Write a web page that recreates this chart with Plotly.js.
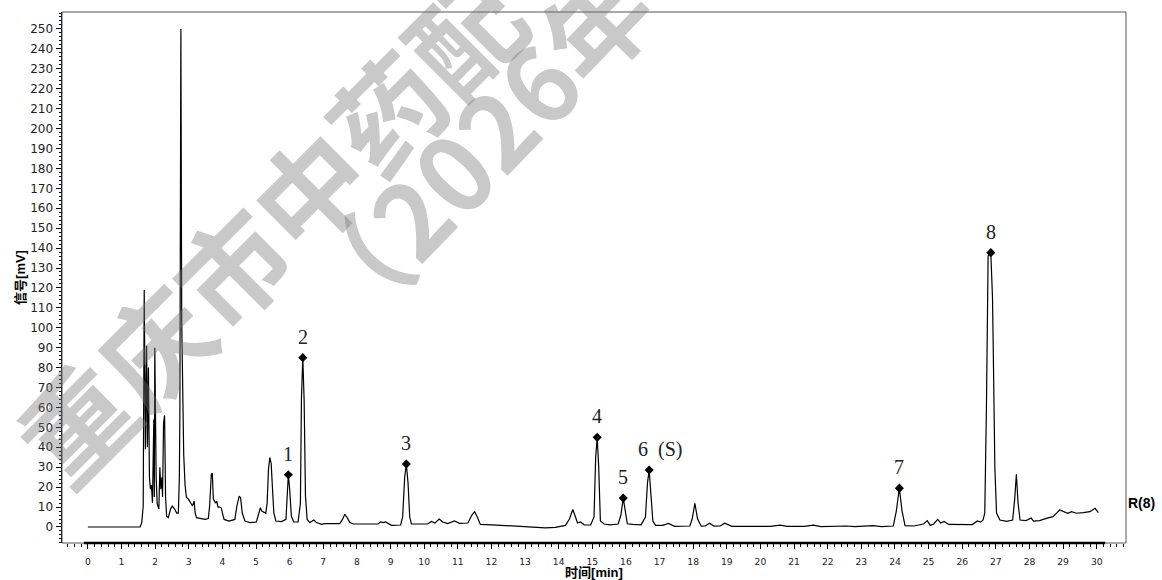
<!DOCTYPE html>
<html>
<head>
<meta charset="utf-8">
<script src="https://cdn.plot.ly/plotly-3.0.1.min.js"></script>
<style>html,body{margin:0;padding:0;background:#fff;}#chart{width:1162px;height:580px;}</style>
</head>
<body>
<div id="chart"></div>
<script>
// retention time (min)
const times = [0,1.55,1.60,1.645,1.675,1.71,1.745,1.77,1.80,1.83,1.86,1.89,1.92,1.94,1.96,1.975,1.99,2.03,2.06,2.11,2.14,2.17,2.20,2.22,2.25,2.28,2.31,2.34,2.39,2.46,2.51,2.58,2.64,2.69,2.72,2.735,2.765,2.79,2.82,2.85,2.89,2.93,2.99,3.05,3.11,3.16,3.19,3.23,3.33,3.48,3.58,3.62,3.67,3.70,3.73,3.76,3.80,3.83,3.87,3.92,3.97,4.00,4.05,4.20,4.37,4.43,4.50,4.54,4.59,4.67,4.82,5.01,5.08,5.13,5.17,5.23,5.29,5.33,5.37,5.41,5.45,5.49,5.53,5.59,5.76,5.89,5.925,5.96,6.00,6.05,6.12,6.25,6.32,6.35,6.39,6.43,6.47,6.52,6.60,6.72,6.80,6.95,7.05,7.49,7.57,7.64,7.71,7.79,7.90,8.30,8.63,8.70,8.78,8.85,9.03,9.30,9.36,9.42,9.47,9.52,9.57,9.62,9.83,10.10,10.22,10.32,10.45,10.55,10.70,10.90,11.05,11.30,11.42,11.50,11.58,11.67,12.00,12.60,13.20,13.60,13.90,14.20,14.32,14.42,14.50,14.56,14.65,14.76,14.95,15.05,15.10,15.145,15.19,15.24,15.35,15.52,15.77,15.85,15.92,15.98,16.04,16.20,16.45,16.58,16.64,16.69,16.74,16.80,16.88,17.10,17.26,17.45,17.90,17.97,18.05,18.13,18.24,18.35,18.49,18.62,18.80,18.94,19.15,19.60,20.30,20.58,20.80,21.30,21.57,21.80,22.56,22.80,23.35,23.60,23.95,24.04,24.13,24.21,24.30,24.55,24.85,24.96,25.05,25.15,25.27,25.36,25.46,25.60,25.90,26.30,26.45,26.55,26.62,26.67,26.72,26.77,26.85,26.90,26.93,26.97,27.02,27.12,27.32,27.50,27.56,27.61,27.66,27.72,27.90,28.05,28.12,28.30,28.50,28.70,28.90,29.02,29.14,29.25,29.40,29.60,29.80,29.95,30.05];
// detector signal (mV)
const signal = [0,0,2,10.5,119,39,91,40,80,25,19,21,12,40,54,15,90,25,12,9,30,19,25,15,52,56,15,5.5,4.7,9,10.5,9,7,7,25,57,250,103,64,36,21,15,14,12,10.5,13,7,4.7,4.2,3.8,4.2,10.5,26.4,27,14,13,12,13,10,10,9.5,7,3.8,3,3.8,10.5,15.5,14.7,7,3,2.2,2.5,7,9.7,8,7.5,6.9,12,29,34.8,32,19,7,3,2.7,3.8,15.5,26.2,19,5.5,2.5,2.5,12,64,85,64,15.5,3.8,2.2,3.5,2.2,1.3,1.7,1.7,3.8,6.4,4.7,2.2,1.5,1.4,1.5,2.5,2.2,2.5,0.8,1,5,25,31.6,22,5,1.5,1.5,1.5,2.8,2,4,2.5,1.7,3,1.8,2,6,7.7,5,1.3,1.1,0.4,0,-0.4,-0.2,0.8,4,8.8,5,2,2.5,1.1,1,5,35,45,30,3,1.5,1.1,1.5,6,14.5,8,1.6,1.3,1.1,5,22,28.6,18,3,0.8,0.8,1.8,0.3,0.5,4,11.8,4,0.4,0.5,1.9,0.4,0.5,1.9,0.3,0.2,0.3,0.9,0.3,0.3,0.9,0.2,0.5,0.2,0.7,0.2,0.5,8,19.5,8,0.7,0.5,1.5,3.2,0.8,1.5,3.8,2,2.8,1.3,1.3,1.2,3,2.5,3.5,7,60,136,137.7,115,80,30,7,3.5,2.8,3.5,14,26.5,12,3.5,3.2,4.5,3,3.2,4.3,5.2,8.5,7.7,6.9,7.7,6.9,7.2,7.7,9.4,7.2];

// labelled peaks
const peakNames = ['1','2','3','4','5','6\u00a0\u00a0(S)','7','8'];
const peakTimes = [5.96, 6.39, 9.47, 15.145, 15.92, 16.69, 24.13, 26.85];
const peakHeights = [26.2, 85, 31.6, 45, 14.5, 28.6, 19.5, 137.7];
const peakLabelShiftX = [0, 0, 0, 0, 0, 11, 0, 0];

const xTickVals = Array.from({length: 31}, (_, i) => i);
const yTickVals = Array.from({length: 26}, (_, i) => i * 10);

const traceLine = {
  x: times, y: signal, type: 'scatter', mode: 'lines',
  line: {color: '#000', width: 1.2}, hoverinfo: 'skip', showlegend: false
};
const traceMarks = {
  x: peakTimes, y: peakHeights, type: 'scatter', mode: 'markers',
  marker: {symbol: 'diamond', size: 7, color: '#000'}, showlegend: false
};

const watermarkColor = 'rgba(120,120,120,0.4)';
const annotations = [
  {xref: 'paper', yref: 'paper', x: 0.1936, y: 0.597, text: '重庆市中药配', showarrow: false,
   textangle: -45, font: {family: 'Noto Sans CJK SC', size: 110, color: watermarkColor, weight: 'bold'},
   xanchor: 'center', yanchor: 'middle'},
  {xref: 'paper', yref: 'paper', x: 0.385, y: 0.745, text: '（2026年', showarrow: false,
   textangle: -46, font: {family: 'Noto Sans CJK SC', size: 104, color: watermarkColor, weight: 'bold'},
   xanchor: 'center', yanchor: 'middle'},
  {xref: 'paper', yref: 'paper', x: 1.015, y: 0.0753, text: 'R(8)', showarrow: false,
   font: {family: 'Liberation Sans', size: 14, color: '#000', weight: 'bold'}, xanchor: 'center', yanchor: 'middle'}
];
peakNames.forEach((n, i) => {
  annotations.push({
    x: peakTimes[i], y: peakHeights[i], xref: 'x', yref: 'y', text: n, showarrow: false,
    yshift: 21, xshift: peakLabelShiftX[i], xanchor: 'center', yanchor: 'middle',
    font: {family: 'Liberation Serif', size: 20, color: '#222'}
  });
});

const layout = {
  width: 1162, height: 580,
  margin: {l: 62, r: 36, t: 12, b: 37},
  paper_bgcolor: '#fff', plot_bgcolor: '#fff',
  showlegend: false,
  xaxis: {
    range: [-0.77, 30.87], tickvals: xTickVals, ticktext: xTickVals.map(String),
    ticks: 'outside', ticklen: 5, tickcolor: '#000', tickwidth: 1,
    ticklabelstandoff: 5,
    minor: {dtick: 0.2, tick0: 0, ticks: 'outside', ticklen: 3, tickcolor: '#000'},
    showgrid: false, zeroline: false, showline: false,
    tickfont: {family: 'DejaVu Sans', size: 9.2, color: '#222'},
    title: {text: '时间[min]', font: {family: 'Liberation Sans, Noto Sans CJK SC', size: 13, color: '#000', weight: 'bold'}, standoff: 3}
  },
  yaxis: {
    range: [-8.04, 258.5], tickvals: yTickVals, ticktext: yTickVals.map(String),
    ticks: 'outside', ticklen: 5, tickcolor: '#000', tickwidth: 1,
    minor: {dtick: 2, tick0: 0, ticks: 'outside', ticklen: 2, tickcolor: '#000'},
    showgrid: false, zeroline: false, showline: true, linecolor: '#000', linewidth: 1.5,
    tickfont: {family: 'DejaVu Sans', size: 12, color: '#222'},
    title: {text: '信号[mV]', font: {family: 'Liberation Sans, Noto Sans CJK SC', size: 13, color: '#000', weight: 'bold'}, standoff: 1}
  },
  shapes: [
    {type: 'rect', xref: 'paper', yref: 'paper', x0: 0, x1: 1, y0: 0, y1: 1, line: {color: '#555', width: 1}, layer: 'above'},
    {type: 'line', xref: 'x', yref: 'paper', x0: -0.12, x1: 30.25, y0: 0, y1: 0, line: {color: '#000', width: 2.5}, layer: 'above'}
  ],
  annotations: annotations
};

Plotly.newPlot('chart', [traceLine, traceMarks], layout, {displayModeBar: false, staticPlot: true});
</script>
</body>
</html>
